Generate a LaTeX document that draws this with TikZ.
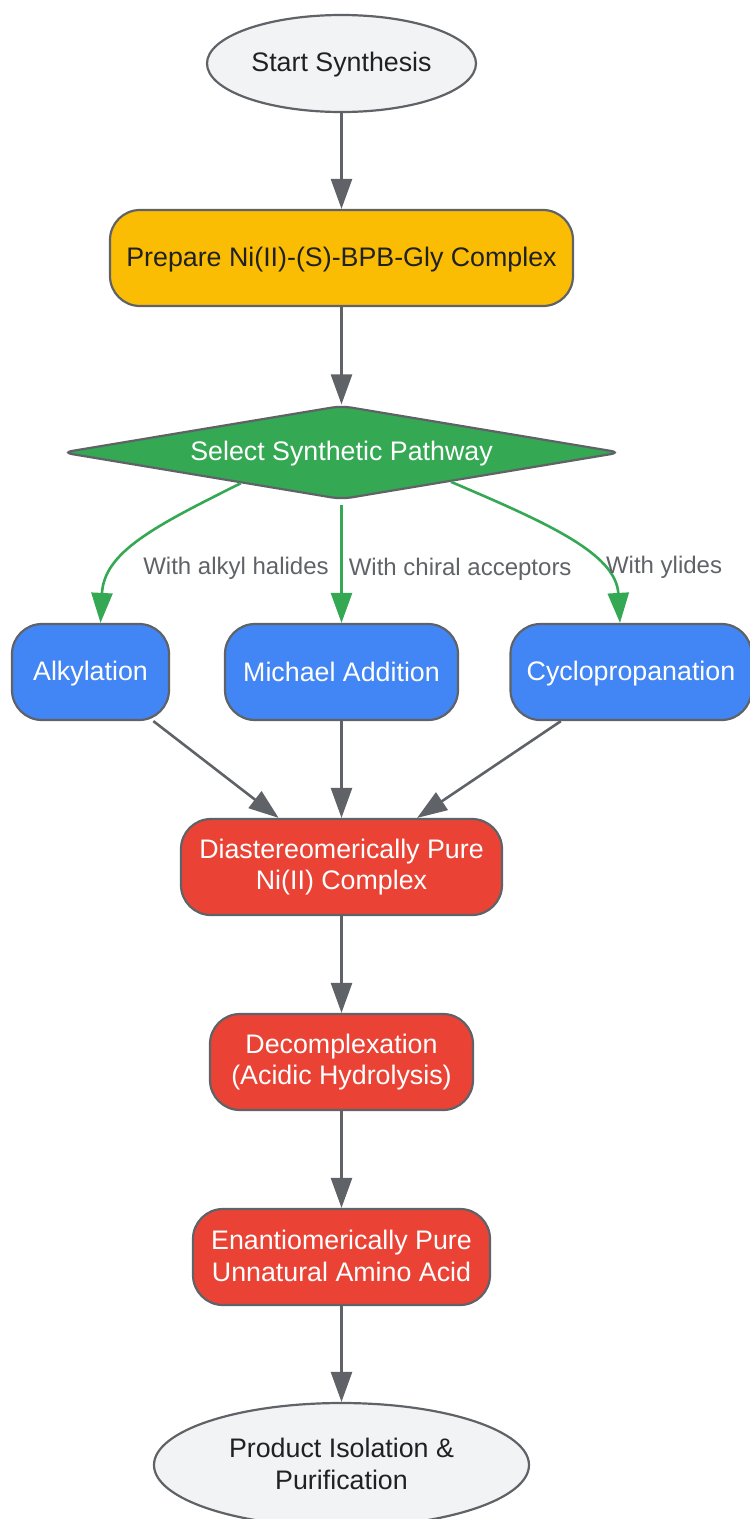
\documentclass[tikz,border=0pt]{standalone}
\usepackage{fontspec}
\setmainfont{Liberation Sans}
\usetikzlibrary{shapes.geometric, arrows.meta}
\definecolor{linegray}{HTML}{5F6368}
\definecolor{darktext}{HTML}{202124}
\definecolor{termfill}{HTML}{F1F3F4}
\definecolor{prepfill}{HTML}{FBBC04}
\definecolor{pathgreen}{HTML}{34A853}
\definecolor{stepblue}{HTML}{4285F4}
\definecolor{stepred}{HTML}{EA4335}
\newcommand{\capstrut}{\rule[-2.8pt]{0pt}{24.8pt}}
\newcommand{\tallstrut}{\rule[-2.8pt]{0pt}{30.8pt}}

\begin{document}
\begin{tikzpicture}[x=1pt,y=1pt,yscale=-1,xscale=1,
  every node/.style={font=\fontsize{26.8}{31.5}\selectfont},
  terminal/.style={ellipse, draw=linegray, line width=2.2pt, fill=termfill, text=darktext, inner sep=0pt, align=center,
    execute at begin node=\capstrut, execute at end node=\capstrut},
  procbox/.style={rectangle, rounded corners=30pt, draw=linegray, line width=2.2pt, minimum height=96pt, inner sep=0pt, align=center, text=white,
    execute at begin node=\capstrut, execute at end node=\capstrut},
  twoline/.style={execute at begin node=\tallstrut, execute at end node=\capstrut},
  choice/.style={diamond, aspect=6, rounded corners=10pt, draw=linegray, line width=2.2pt, fill=pathgreen, text=white, inner sep=0pt,
    execute at begin node=\capstrut},
  flow/.style={draw=linegray, line width=2.6pt, -{Triangle[length=30pt,width=21pt]}},
  branch/.style={draw=pathgreen, line width=2.6pt, -{Triangle[length=30pt,width=21pt]}},
  elabel/.style={font=\fontsize{24}{28}\selectfont, text=linegray, inner sep=3pt, yshift=-3pt}]
\useasboundingbox (0,0) rectangle (750,1519);
%nodes
\node [terminal, minimum width=269pt, minimum height=97pt] (start) at (341.5,63.5) {Start Synthesis};
\node [procbox, fill=prepfill, text=darktext, minimum width=463pt] (prep) at (341.5,258) {Prepare Ni(II)-(S)-BPB-Gly Complex};
\node [choice, minimum width=559pt, minimum height=94pt] (sel) at (341.5,452.5) {Select Synthetic Pathway};
\node [procbox, fill=stepblue, minimum width=157pt] (alk) at (90.5,672) {Alkylation};
\node [procbox, fill=stepblue, minimum width=233pt] (mich) at (341.5,672) {Michael Addition};
\node [procbox, fill=stepblue, minimum width=241pt] (cyc) at (631,672) {Cyclopropanation};
\node [procbox, twoline, fill=stepred, minimum width=321pt] (dia) at (341.5,867) {Diastereomerically Pure\\Ni(II) Complex};
\node [procbox, twoline, fill=stepred, minimum width=263pt] (dec) at (341.5,1062) {Decomplexation\\(Acidic Hydrolysis)};
\node [procbox, twoline, fill=stepred, minimum width=297pt] (ena) at (341.5,1257) {Enantiomerically Pure\\Unnatural Amino Acid};
\node [terminal, twoline, minimum width=375pt, minimum height=124pt] (prod) at (341.5,1465) {Product Isolation \&\\Purification};
%connectors
\draw [flow] (start) -- (prep);
\draw [flow] (prep) -- (sel);
\draw [branch] (sel.197) .. controls (155,526) and (104,552) .. ([xshift=10pt]alk.north)
    node [elabel, pos=0.67, right, xshift=20pt] {With alkyl halides};
\draw [branch] ([yshift=4pt]sel.south) -- (mich.north)
    node [elabel, pos=0.52, right, xshift=3pt] {With chiral acceptors};
\draw [branch] (sel.345) .. controls (545,522) and (616,553) .. ([xshift=-11pt]cyc.north)
    node [elabel, pos=0.67, right, xshift=6pt] {With ylides};
\draw [flow] (alk.-38) -- (dia.142);
\draw [flow] (mich) -- (dia);
\draw [flow] (cyc.215) -- (dia.33);
\draw [flow] (dia) -- (dec);
\draw [flow] (dec) -- (ena);
\draw [flow] (ena) -- (prod);
\end{tikzpicture}
\end{document}
